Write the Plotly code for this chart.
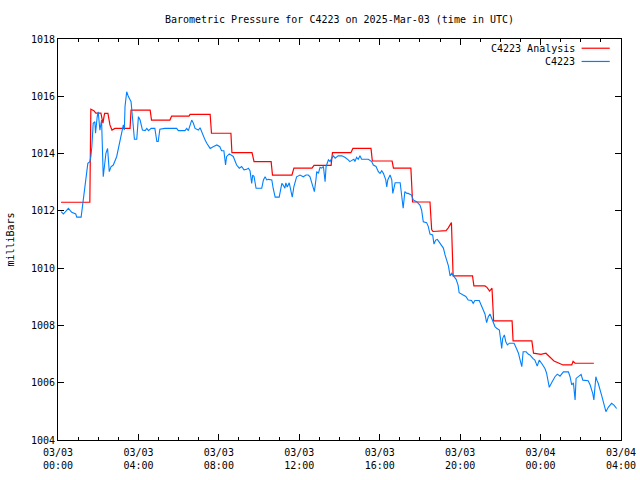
import pandas as pd
import plotly.graph_objects as go

BASE = pd.Timestamp("2025-03-03 00:00")

# Analysis series: minutes after 2025-03-03 00:00 UTC, pressure (mbar)
analysis_min = [9, 95, 98, 107, 113, 128, 134, 139, 149, 155, 161, 170, 215, 218, 275, 279,
                334, 339, 391, 394, 454, 458, 516, 519, 579, 585, 636, 640, 698, 704, 758, 764,
                815, 819, 874, 880, 934, 938, 997, 1001, 1053, 1058, 1110, 1115, 1119, 1158,
                1164, 1174, 1179, 1237, 1241, 1274, 1280, 1288, 1295, 1300, 1355, 1358, 1414,
                1419, 1441, 1456, 1480, 1507, 1533, 1537, 1543, 1599]
analysis_mb = [1012.30, 1012.30, 1015.55, 1015.50, 1015.41, 1015.41, 1015.06, 1015.40, 1015.40,
               1015.00, 1014.82, 1014.88, 1014.88, 1015.52, 1015.52, 1015.17, 1015.17, 1015.31,
               1015.31, 1015.37, 1015.37, 1014.71, 1014.71, 1014.03, 1014.03, 1013.72, 1013.72,
               1013.25, 1013.25, 1013.49, 1013.49, 1013.59, 1013.59, 1014.03, 1014.03, 1014.18,
               1014.18, 1013.74, 1013.74, 1013.49, 1013.49, 1012.31, 1012.31, 1011.35, 1011.28,
               1011.31, 1011.40, 1011.59, 1009.73, 1009.73, 1009.38, 1009.38, 1009.33, 1009.20,
               1009.30, 1008.16, 1008.16, 1007.46, 1007.46, 1007.03, 1006.99, 1007.03, 1006.76,
               1006.62, 1006.62, 1006.75, 1006.68, 1006.68]

# Observed series
obs_min = [9, 16, 31, 41, 53, 56, 69, 71, 78, 84, 89, 95, 98, 101, 105, 110, 112, 117, 120, 125,
           130, 135, 140, 143, 148, 153, 158, 165, 175, 185, 190, 195, 198, 200, 205, 210, 218,
           222, 225, 228, 235, 240, 245, 252, 260, 265, 270, 278, 289, 295, 299, 304, 319, 354,
           359, 379, 384, 389, 399, 404, 409, 419, 424, 434, 439, 444, 454, 463, 474, 483, 488,
           495, 500, 503, 511, 523, 533, 541, 548, 555, 563, 568, 573, 578, 581, 585, 588, 591,
           608, 613, 618, 623, 628, 638, 642, 648, 660, 665, 668, 672, 677, 680, 684, 690, 694,
           699, 704, 712, 722, 732, 740, 747, 752, 757, 762, 765, 770, 772, 777, 782, 787, 792,
           797, 800, 807, 812, 817, 822, 827, 832, 836, 847, 856, 866, 871, 879, 883, 886, 891,
           896, 901, 906, 916, 926, 936, 941, 949, 956, 961, 966, 971, 978, 981, 984, 991, 996,
           999, 1003, 1006, 1021, 1026, 1030, 1035, 1041, 1045, 1055, 1060, 1070, 1075, 1080,
           1085, 1088, 1090, 1100, 1105, 1110, 1118, 1122, 1127, 1132, 1140, 1145, 1150, 1155,
           1160, 1165, 1170, 1175, 1180, 1188, 1194, 1197, 1209, 1217, 1224, 1234, 1239, 1244,
           1257, 1264, 1274, 1279, 1284, 1289, 1299, 1304, 1309, 1317, 1321, 1324, 1327, 1332,
           1336, 1341, 1347, 1361, 1369, 1374, 1379, 1384, 1388, 1397, 1403, 1408, 1417, 1423,
           1430, 1436, 1443, 1453, 1458, 1463, 1466, 1473, 1483, 1490, 1498, 1508, 1523, 1528,
           1533, 1538, 1543, 1546, 1553, 1561, 1566, 1578, 1582, 1588, 1596, 1599, 1605, 1608,
           1612, 1622, 1629, 1635, 1642, 1652, 1659, 1667]
obs_mb = [1011.97, 1011.89, 1012.09, 1011.95, 1011.89, 1011.78, 1011.78, 1011.97, 1012.67, 1013.25,
          1013.66, 1013.72, 1013.89, 1014.24, 1015.06, 1015.11, 1014.71, 1015.29, 1015.46, 1014.82,
          1015.17, 1013.19, 1013.60, 1014.01, 1014.18, 1013.37, 1013.54, 1013.60, 1013.89, 1014.47,
          1014.82, 1015.00, 1014.82, 1015.64, 1016.16, 1015.99, 1015.81, 1015.23, 1014.88, 1014.50,
          1014.50, 1015.29, 1015.17, 1014.82, 1014.80, 1014.88, 1014.80, 1014.88, 1014.88, 1014.42,
          1014.42, 1014.85, 1014.88, 1014.88, 1014.80, 1014.80, 1014.88, 1014.80, 1015.17, 1015.06,
          1014.88, 1014.82, 1014.90, 1014.59, 1014.47, 1014.36, 1014.18, 1014.24, 1014.30, 1014.24,
          1014.10, 1014.10, 1013.60, 1013.89, 1013.99, 1013.90, 1013.60, 1013.49, 1013.55, 1013.43,
          1013.45, 1013.49, 1013.40, 1012.96, 1013.25, 1013.20, 1012.90, 1012.79, 1012.79, 1013.08,
          1013.19, 1013.08, 1013.10, 1013.08, 1012.79, 1012.48, 1012.48, 1012.79, 1012.96, 1012.90,
          1012.79, 1012.98, 1012.83, 1012.98, 1012.73, 1012.48, 1012.85, 1013.19, 1013.25, 1013.19,
          1013.25, 1013.25, 1013.19, 1012.96, 1012.83, 1012.67, 1013.12, 1013.37, 1013.31, 1013.52,
          1013.49, 1013.55, 1013.02, 1013.55, 1013.78, 1013.72, 1013.84, 1013.92, 1013.84, 1013.87,
          1013.92, 1013.92, 1013.87, 1013.78, 1013.72, 1013.78, 1013.80, 1013.72, 1013.87, 1013.80,
          1013.92, 1013.80, 1013.80, 1013.80, 1013.72, 1013.60, 1013.55, 1013.37, 1013.31, 1013.40,
          1013.31, 1013.08, 1012.84, 1013.08, 1013.25, 1013.08, 1012.61, 1012.90, 1012.98, 1012.98,
          1012.55, 1012.09, 1012.67, 1012.61, 1012.61, 1012.55, 1012.38, 1012.32, 1012.26, 1012.20,
          1012.03, 1011.82, 1011.62, 1011.59, 1011.45, 1011.19, 1011.16, 1010.84, 1010.98, 1011.00,
          1010.87, 1010.75, 1010.70, 1010.46, 1010.29, 1010.08, 1009.73, 1009.82, 1009.73, 1009.61,
          1009.40, 1009.14, 1009.06, 1009.01, 1008.89, 1008.87, 1008.77, 1008.87, 1008.87, 1008.66,
          1008.40, 1008.10, 1008.30, 1008.40, 1008.10, 1007.96, 1007.90, 1007.84, 1007.49, 1007.20,
          1007.55, 1007.67, 1007.44, 1007.32, 1007.38, 1007.38, 1007.17, 1007.03, 1006.79, 1006.56,
          1007.08, 1007.08, 1007.00, 1006.97, 1006.85, 1006.79, 1006.58, 1006.79, 1006.68, 1006.50,
          1006.33, 1005.98, 1005.84, 1006.00, 1006.21, 1006.30, 1006.23, 1006.38, 1006.38, 1006.21,
          1005.92, 1006.00, 1005.40, 1006.15, 1006.21, 1006.29, 1006.09, 1006.09, 1006.07, 1005.92,
          1005.61, 1005.40, 1006.21, 1006.09, 1005.98, 1005.57, 1005.28, 1004.99, 1005.14, 1005.28,
          1005.22, 1005.10]

y_ticks = [1004, 1006, 1008, 1010, 1012, 1014, 1016, 1018]

FONT = "DejaVu Sans Mono"
FS = 10
RED = "#ff0000"
BLUE = "#0080ff"

def to_time(mins):
    return BASE + pd.to_timedelta(mins, unit="m")

fig = go.Figure()
fig.add_trace(go.Scatter(x=to_time(analysis_min), y=analysis_mb, mode="lines",
                         name="C4223 Analysis", line=dict(color=RED, width=1.2)))
fig.add_trace(go.Scatter(x=to_time(obs_min), y=obs_mb, mode="lines",
                         name="C4223", line=dict(color=BLUE, width=1.1)))

axis_common = dict(showline=True, linecolor="black", linewidth=1, mirror="ticks",
                   ticks="inside", ticklen=6, tickcolor="black", showgrid=False,
                   zeroline=False, automargin=False,
                   tickfont=dict(family=FONT, size=FS, color="black"))

fig.update_xaxes(type="date", range=[BASE, BASE + pd.Timedelta(hours=28)],
                 tick0=BASE, dtick=4 * 3600 * 1000, tickformat="%m/%d<br>%H:%M",
                 ticklabeloverflow="allow", ticklabelstandoff=3,
                 minor=dict(dtick=3600 * 1000, ticks="inside", ticklen=3, tickcolor="black"),
                 **axis_common)
fig.update_yaxes(range=[1004, 1018], tickvals=y_ticks, ticktext=[str(v) for v in y_ticks],
                 title=dict(text="milliBars", font=dict(family=FONT, size=FS, color="black"),
                            standoff=14),
                 **axis_common)

# legend drawn gnuplot-style: text right-aligned, line sample to its right
legend_items = [("C4223 Analysis", RED, 0.977), ("C4223", BLUE, 0.944)]
for label, color, yy in legend_items:
    fig.add_annotation(xref="paper", yref="paper", x=0.922, y=yy, text=label,
                       showarrow=False, xanchor="right", yanchor="middle",
                       font=dict(family=FONT, size=FS, color="black"))
    fig.add_shape(type="line", xref="paper", yref="paper", x0=0.930, x1=0.980,
                  y0=yy, y1=yy, line=dict(color=color, width=1.2))

fig.update_layout(
    width=640, height=480,
    margin=dict(l=58, r=19, t=39, b=40),
    paper_bgcolor="white", plot_bgcolor="white",
    showlegend=False,
    title=dict(text="Barometric Pressure for C4223 on 2025-Mar-03 (time in UTC)",
               x=0.5, xanchor="center", xref="paper",
               y=1 - 19 / 480, yanchor="middle", yref="container",
               font=dict(family=FONT, size=FS, color="black")),
)

fig.write_html("out.html",
               config={"displayModeBar": False},
               post_script="document.body.style.margin='0';"
                           "document.body.style.overflow='hidden';")
